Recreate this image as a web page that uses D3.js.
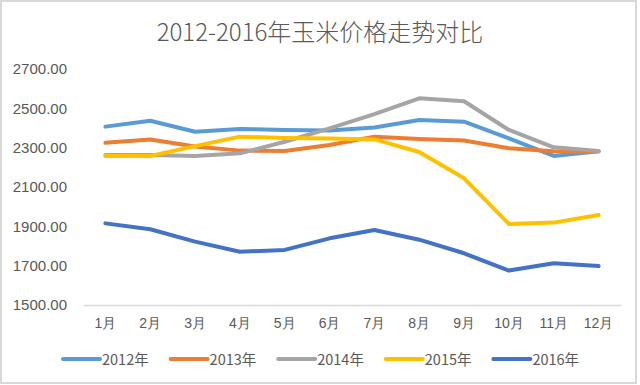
<!DOCTYPE html>
<html><head><meta charset="utf-8">
<script src="https://cdn.jsdelivr.net/npm/d3@7"></script>
<style>body{margin:0;background:#fff}svg{display:block;font-family:"Noto Sans CJK SC","Noto Sans",sans-serif}</style>
</head><body><svg id="c" width="640" height="385"></svg>
<script>
const months = ["1月","2月","3月","4月","5月","6月","7月","8月","9月","10月","11月","12月"];
const yTicks = [1500,1700,1900,2100,2300,2500,2700];
const seriesNames = ["2012年","2013年","2014年","2015年","2016年"];
const colors = ["#5B9BD5","#ED7D31","#A5A5A5","#FFC000","#4472C4"];
const s2012 = [2407,2437,2381,2395,2390,2387,2403,2441,2432,2347,2258,2282];
const s2013 = [2325,2342,2306,2285,2283,2314,2356,2344,2336,2297,2282,2280];
const s2014 = [2263,2263,2258,2271,2330,2398,2471,2551,2536,2390,2302,2283];
const s2015 = [2258,2258,2308,2356,2349,2347,2342,2278,2144,1912,1919,1958];
const s2016 = [1915,1885,1822,1771,1780,1839,1881,1832,1763,1675,1712,1698];
const series = [s2012,s2013,s2014,s2015,s2016];

const svg = d3.select("#c");
svg.append("rect").attr("x",1).attr("y",1).attr("width",635).attr("height",382)
  .attr("fill","#fff").attr("stroke","#D9D9D9").attr("stroke-width",2);
svg.append("text").attr("x",320).attr("y",41).attr("text-anchor","middle")
  .attr("font-size",24).attr("font-weight",300).attr("fill","#595959").text("2012-2016年玉米价格走势对比");

const x = d3.scaleBand().domain(months).range([83,621]);
const y = d3.scaleLinear().domain([1500,2700]).range([305,69]);

const xa = svg.append("g").attr("transform","translate(0,305)")
  .call(d3.axisBottom(x).tickSize(0).tickPadding(13));
xa.select(".domain").attr("stroke","#D9D9D9").attr("stroke-width",1.5);
xa.selectAll("text").attr("font-size",14).attr("fill","#595959").attr("font-family","inherit");

const ya = svg.append("g").attr("transform","translate(67,0)")
  .call(d3.axisLeft(y).tickValues(yTicks).tickSize(0).tickPadding(0).tickFormat(d=>d.toFixed(2)));
ya.select(".domain").remove();
ya.selectAll("text").attr("font-size",15).attr("fill","#595959").attr("font-family","inherit");

const line = d3.line().x((d,i)=>x(months[i])+x.bandwidth()/2).y(d=>y(d));
series.forEach((s,k)=>{
  svg.append("path").datum(s).attr("d",line).attr("fill","none")
    .attr("stroke",colors[k]).attr("stroke-width",4).attr("stroke-linejoin","round").attr("stroke-linecap","round");
});

const lg = svg.append("g");
seriesNames.forEach((n,k)=>{
  const lx = 63 + k*107.6;
  lg.append("line").attr("x1",lx).attr("x2",lx+37).attr("y1",359).attr("y2",359)
    .attr("stroke",colors[k]).attr("stroke-width",4).attr("stroke-linecap","round");
  lg.append("text").attr("x",lx+39).attr("y",365).attr("font-size",14.5).attr("fill","#595959").text(n);
});
</script></body></html>
